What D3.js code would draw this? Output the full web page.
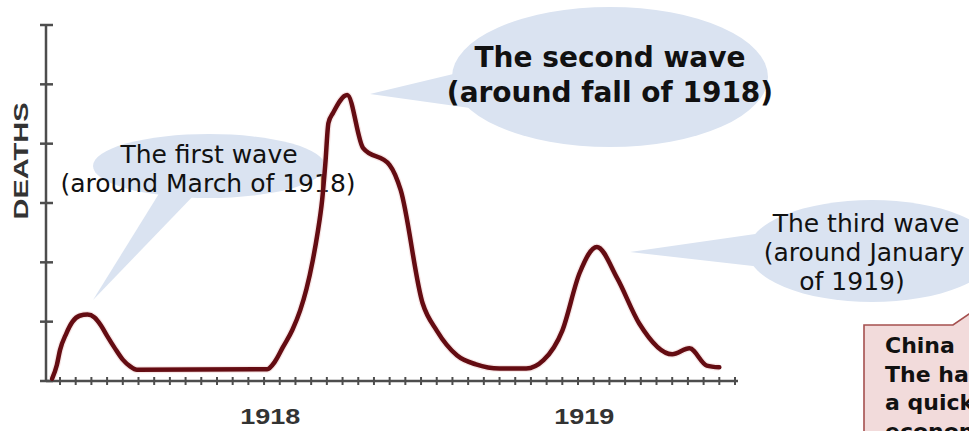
<!DOCTYPE html>
<meta charset="utf-8">
<head>
<style>
body { margin: 0; background: #fff; }
svg { display: block; }
.axis line, .axis path { stroke: #4d4d4d; stroke-width: 2.5px; fill: none; }
.bubble { fill: #dae3f1; }
.note { font-family: "DejaVu Sans", Verdana, sans-serif; fill: #111; }
.year { font-family: "Liberation Sans", Arial, sans-serif; font-weight: bold; fill: #333; }
</style>
<title>Spanish flu waves</title>
</head>
<body>
<svg id="chart" width="969" height="431"></svg>
<script src="https://d3js.org/d3.v7.min.js"></script>
<script>
// tick index along the time axis (one tick per period)
var periods = [-0.5, -0.2, 0, 0.4, 0.8, 1.25, 1.75, 2.2, 2.6, 3.0, 3.5, 4.0, 4.45, 4.9, 13.2, 13.7, 14.2, 14.8, 15.3, 15.7, 16.1, 16.4,
               16.7, 16.9, 17.1, 17.4, 18.3, 19.3, 21.0, 21.7, 23.1, 24.0, 25.3, 26.5, 28.0, 29.7, 30.8, 32.0, 33.1, 34.2, 35.5,
               36.9, 39.0, 40.1, 41.2, 42.0];
// deaths, in y-tick units
var deaths = [0.04, 0.27, 0.52, 0.8, 1.0, 1.1, 1.12, 1.07, 0.94, 0.76, 0.55, 0.36, 0.25, 0.19, 0.2, 0.33, 0.57, 0.86, 1.19, 1.55, 2.03, 2.48,
              3.05, 3.65, 4.35, 4.52, 4.82, 3.93, 3.64, 3.22, 1.31, 0.85, 0.43, 0.28, 0.21, 0.21, 0.35, 0.85, 1.82, 2.26, 1.73,
              0.97, 0.45, 0.55, 0.26, 0.23];
var yearLabels = ["1918", "1919"];
var yearPos = [13.4, 33.4];
var xTickCount = 44;
var yTickCount = 7;

var svg = d3.select("svg");

var x = d3.scaleLinear().domain([0, 43]).range([60, 735]);
var y = d3.scaleLinear().domain([0, 6]).range([381, 25]);

// callout bubbles
function bubble(cx, cy, rx, ry, tri) {
  var g = svg.append("g");
  g.append("polygon").attr("class", "bubble").attr("points", tri.map(p => p.join(",")).join(" "));
  g.append("ellipse").attr("class", "bubble")
    .attr("cx", cx).attr("cy", cy).attr("rx", rx).attr("ry", ry);
}
bubble(209, 166, 116, 32, [[93, 300], [160, 192], [197, 192]]);
bubble(610, 77, 158, 70, [[370, 94], [470, 70], [470, 108]]);
bubble(872, 251, 124, 51, [[630, 252], [770, 232], [770, 268]]);

function lines(arr, size, weight) {
  arr.forEach(function(d) {
    svg.append("text").attr("class", "note")
      .attr("x", d[0]).attr("y", d[1])
      .attr("text-anchor", "middle")
      .style("font-size", size + "px")
      .style("font-weight", weight)
      .text(d[2]);
  });
}
lines([[209, 163, "The first wave"], [208, 192, "(around March of 1918)"]], 25, "normal");
lines([[610, 67, "The second wave"], [610, 102, "(around fall of 1918)"]], 28, "bold");
lines([[866, 232, "The third wave"], [864, 261, "(around January"], [852, 290, "of 1919)"]], 25, "normal");

// China box, runs off the right edge like in the source picture
svg.append("path")
  .attr("d", "M864,325 L953,325 L992,298 L985,325 L1010,325 L1010,470 L864,470 Z")
  .attr("fill", "#f2dbdb").attr("stroke", "#a5504f").attr("stroke-width", 1.6);
["China", "The ha", "a quick", "econom"].forEach(function(t, i) {
  svg.append("text").attr("class", "note")
    .attr("x", 885).attr("y", 353 + i * 28.7)
    .style("font-size", "22px").style("font-weight", "bold")
    .text(t);
});

// axes
var ax = svg.append("g").attr("class", "axis");
ax.append("line").attr("x1", 46).attr("x2", 46).attr("y1", y(6)).attr("y2", y(0) + 1);
ax.append("line").attr("x1", 46).attr("x2", 738).attr("y1", y(0)).attr("y2", y(0));
ax.selectAll(".yt").data(d3.range(yTickCount)).enter().append("line")
  .attr("x1", 40).attr("x2", 53)
  .attr("y1", d => y(d)).attr("y2", d => y(d));
ax.selectAll(".xt").data(d3.range(xTickCount)).enter().append("line")
  .attr("x1", d => x(d)).attr("x2", d => x(d))
  .attr("y1", y(0) - 4).attr("y2", y(0) + 4)
  .style("stroke-width", "2px");

svg.selectAll(".year").data(yearLabels).enter().append("text")
  .attr("class", "year")
  .attr("x", (d, i) => x(yearPos[i]))
  .attr("y", 424)
  .attr("text-anchor", "middle")
  .attr("textLength", 60)
  .attr("lengthAdjust", "spacingAndGlyphs")
  .style("font-size", "22px")
  .text(d => d);

svg.append("text").attr("class", "year")
  .attr("transform", "translate(28,161) rotate(-90)")
  .attr("text-anchor", "middle")
  .attr("textLength", 117)
  .attr("lengthAdjust", "spacingAndGlyphs")
  .style("font-size", "21px")
  .text("DEATHS");

// death curve
var pts = periods.map((p, i) => [p, deaths[i]]);
var line = d3.line().x(d => x(d[0])).y(d => y(d[1])).curve(d3.curveMonotoneX);
svg.append("path").datum(pts)
  .attr("d", line)
  .attr("fill", "none")
  .attr("stroke", "#e9b9bb")
  .attr("stroke-width", 7)
  .attr("stroke-opacity", 0.35);
svg.append("path").datum(pts)
  .attr("d", line)
  .attr("fill", "none")
  .attr("stroke", "#640c12")
  .attr("stroke-width", 4.5)
  .attr("stroke-linejoin", "round")
  .attr("stroke-linecap", "round");
</script>
</body>
